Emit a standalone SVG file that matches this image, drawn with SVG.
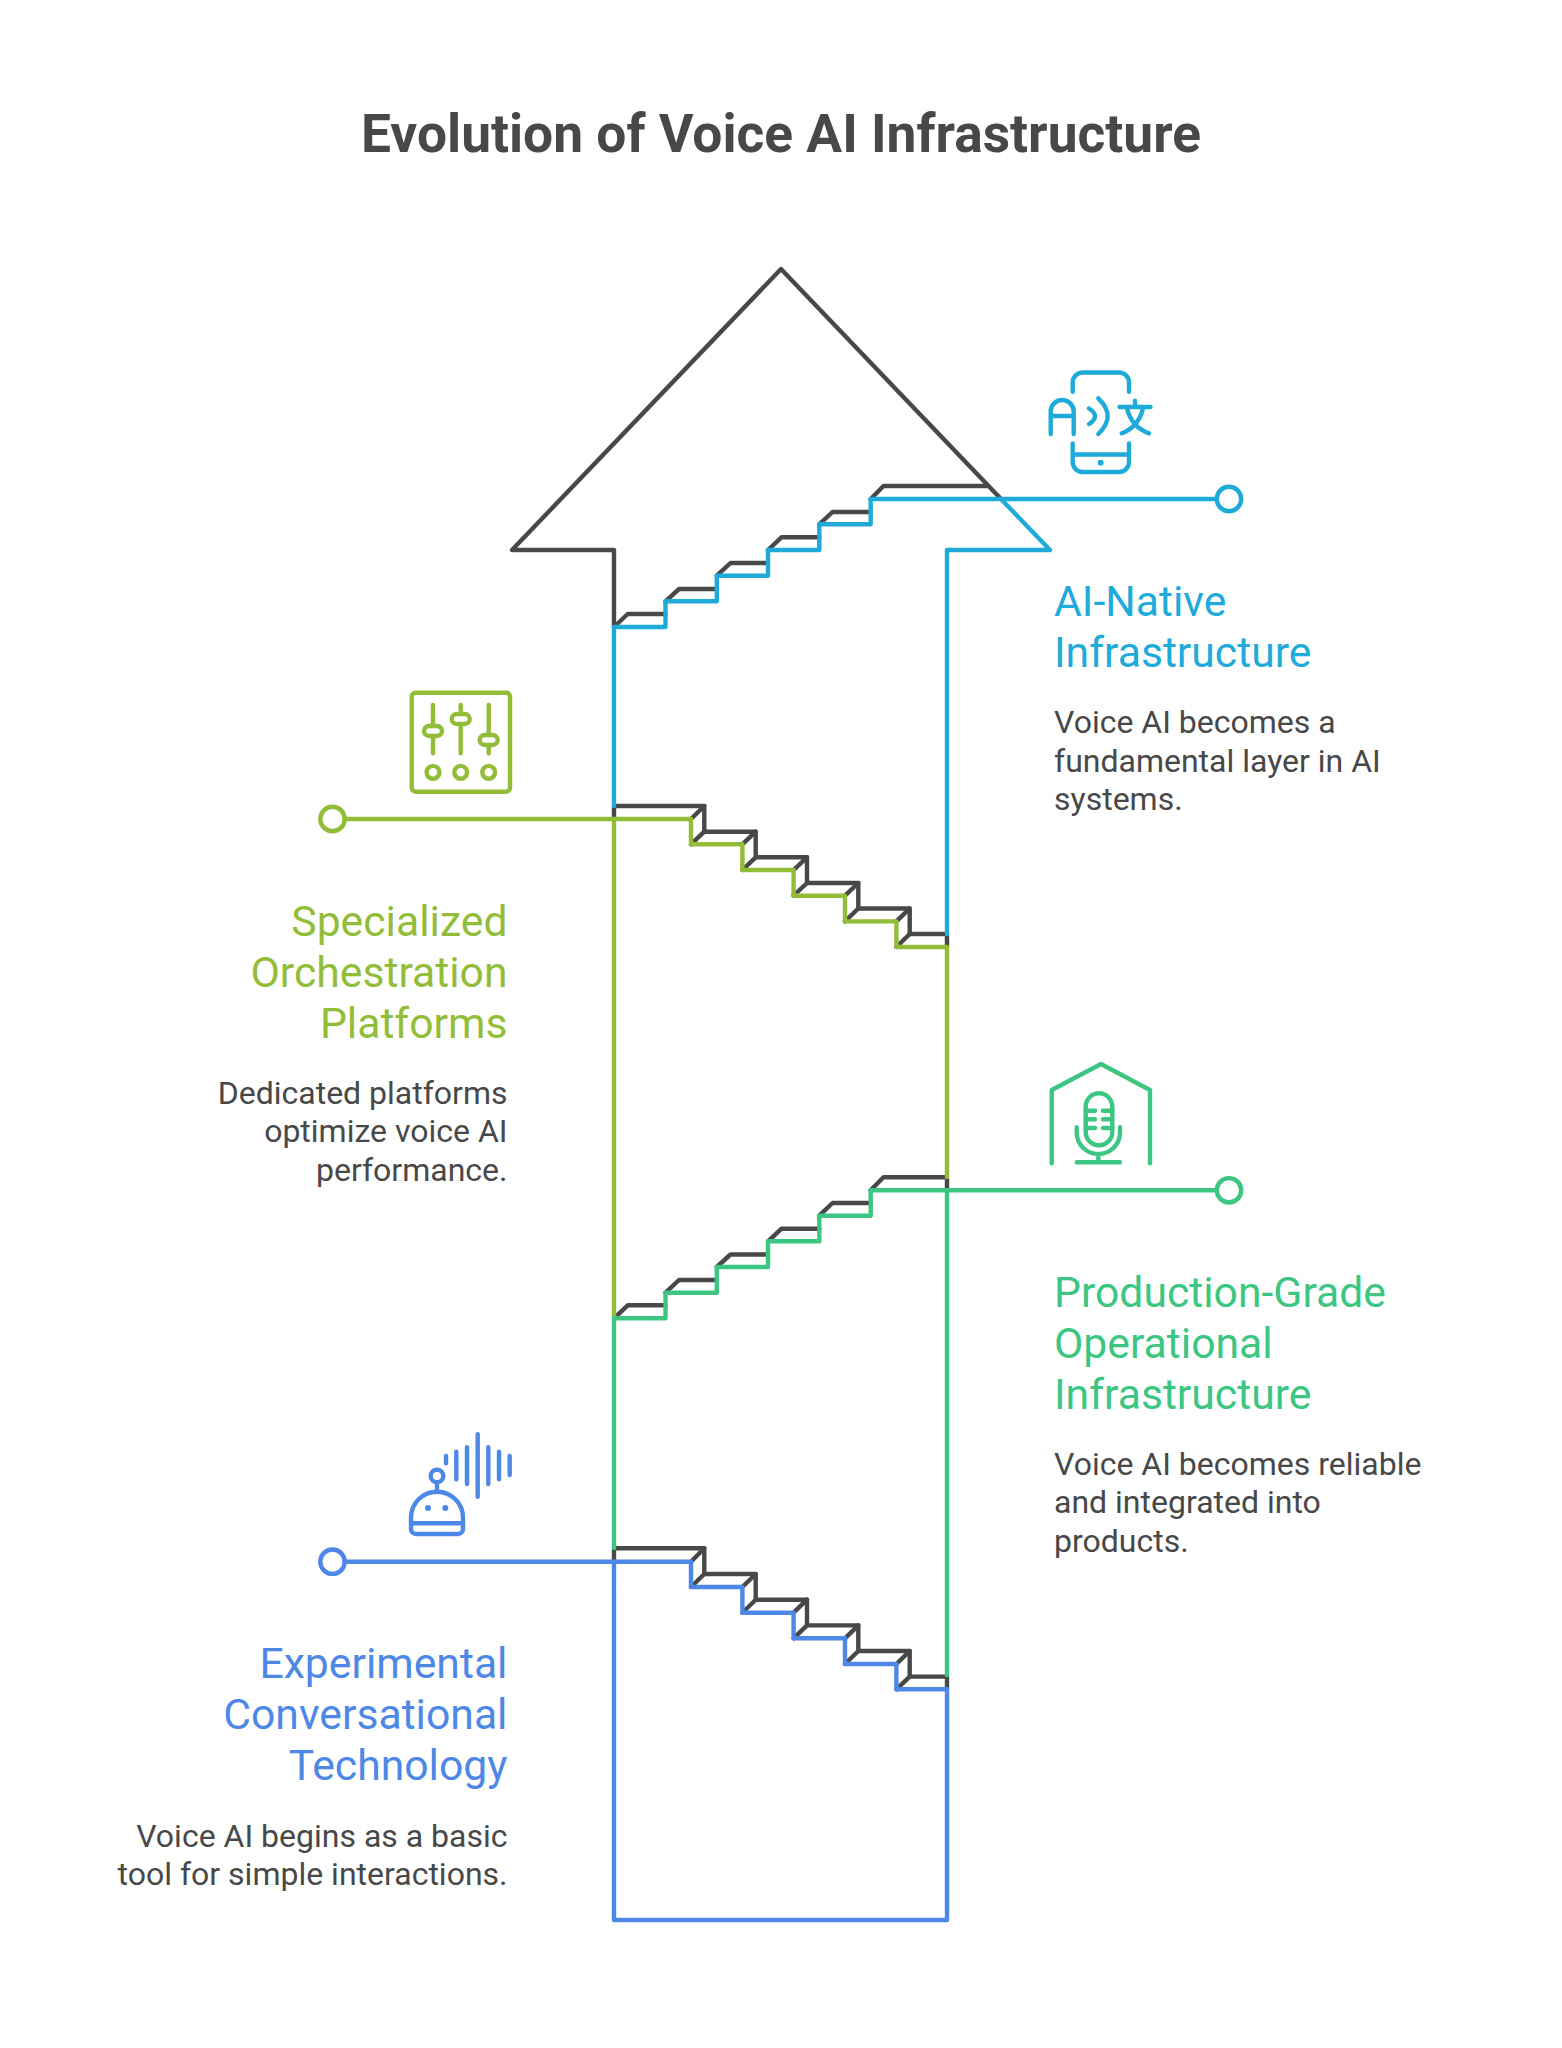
<svg xmlns="http://www.w3.org/2000/svg" width="1562" height="2048" viewBox="0 0 1562 2048">
<style>
text{font-family:Roboto,"Liberation Sans",sans-serif}
.title{font-size:53.3px;font-weight:700;fill:#484848}
.head{font-size:42.7px;font-weight:400}
.desc{font-size:32px;fill:#484848}
.end{text-anchor:end}
.s,.i{fill:none;stroke-width:4.4;stroke-linecap:round;stroke-linejoin:round}
.d{stroke:#484848}
.c{stroke:#1eabda}.o{stroke:#92bd39}.g{stroke:#3dc682}.b{stroke:#4e88e7}
.tc{fill:#1eabda}.to{fill:#92bd39}.tg{fill:#3dc682}.tb{fill:#4e88e7}
.n{fill:#fff;stroke-width:4.4}
</style>
<rect width="1562" height="2048" fill="#fff"/>
<g id="title"><text class="title" x="781" y="151.7" text-anchor="middle">Evolution of Voice AI Infrastructure</text></g>
<g id="arrow-outline">
<path class="s d" d="M1001 499L781 269L512 550H614V627"/>
<path class="s d" d="M614 627L627.7 614H665.5M665.5 601.3L679 589H716.8M716.8 575.7L730.5 563H768M768 550L781.5 537.3H819.3M819.3 524.3L832.5 512H870.7M870.7 499L883.5 486H987"/>
<path class="s d" d="M614 819V806H704.3V831.7H755.7V857.3H807V883H858.3V908.5H909.7V934H947V947"/>
<path class="s d" d="M691 819L704.3 806M691 844.3L704.3 831.7M742.4 844.3L755.7 831.7M742.4 870L755.7 857.3M793.6 870L807 857.3M793.6 895.7L807 883M845 895.7L858.3 883M845 921.4L858.3 908.5M896.4 921.4L909.7 908.5M896.4 947L909.7 934"/>
<path class="s d" d="M614 1318.3L627.7 1305.3H665.5M665.5 1292.7L679 1280H716.8M716.8 1267L730.5 1254.5H768M768 1241.3L781.5 1228.7H819.3M819.3 1215.7L832.5 1203H870.7M870.7 1190.3L883.5 1177.3H947V1190.3"/>
<path class="s d" d="M614 1561.7V1548.3H704.3V1574H755.7V1599.7H807V1625.4H858.3V1651H909.7V1676.6H947V1689.3"/>
<path class="s d" d="M691 1561.7L704.3 1548.3M691 1587L704.3 1574M742.4 1587L755.7 1574M742.4 1612.7L755.7 1599.7M793.6 1612.7L807 1599.7M793.6 1638.3L807 1625.4M845 1638.3L858.3 1625.4M845 1664L858.3 1651M896.4 1664L909.7 1651M896.4 1689.3L909.7 1676.6"/>
</g>
<g id="node-ai-native">
<path class="s c" d="M614 806V627H665.5V601.3H716.8V575.7H768V550H819.3V524.3H870.7V499M1001 499L1050 550H947V934"/>
<circle class="n c" cx="1229" cy="499" r="12.2"/>
<g class="i c"><path d="M1072.7 391.7V382.5A10 10 0 0 1 1082.7 372.5H1119A10 10 0 0 1 1129 382.5V391.7M1072.7 443.5V462A10 10 0 0 0 1082.7 472H1119A10 10 0 0 0 1129 462V443.5M1072.7 454.5H1129M1050.7 434V411.5A11.5 11.5 0 0 1 1073.7 411.5V434M1050.7 416H1073.7M1089 408.5Q1101 416 1089 424M1098.3 398.3Q1117 416 1098.3 434M1119.5 407H1150.5M1135 400.7V407M1143.3 407Q1139 427 1121.7 433.3M1126.7 407Q1131 427 1149 433.3"/></g>
<circle class="tc" cx="1100.7" cy="462.7" r="3"/>
<text class="head tc" x="1054" y="615.7">AI-Native</text>
<text class="head tc" x="1054" y="666.7">Infrastructure</text>
<text class="desc" x="1054" y="733">Voice AI becomes a</text>
<text class="desc" x="1054" y="771.5">fundamental layer in AI</text>
<text class="desc" x="1054" y="809.5">systems.</text>
</g>
<g id="node-orchestration">
<path class="s o" d="M614 1316V819M691 819V844.3H742.4V870H793.6V895.7H845V921.4H896.4V947H947V1177"/>
<circle class="n o" cx="332.5" cy="819" r="12.2"/>
<g class="i o"><rect x="411.7" y="692.7" width="98.3" height="99" rx="4"/><path d="M433 705V725.5M433 737V753.3M460.7 705V713M460.7 725V753.3M488.7 705V734.5M488.7 746V753.3"/><rect x="424" y="726" width="18" height="10" rx="5"/><rect x="451.7" y="714" width="18" height="10" rx="5"/><rect x="479.7" y="735" width="18" height="10" rx="5"/><circle cx="433" cy="772.3" r="6.4"/><circle cx="460.7" cy="772.3" r="6.4"/><circle cx="488.7" cy="772.3" r="6.4"/></g>
<text class="head to end" x="507.5" y="936">Specialized</text>
<text class="head to end" x="507.5" y="987">Orchestration</text>
<text class="head to end" x="507.5" y="1038">Platforms</text>
<text class="desc end" x="507.5" y="1104">Dedicated platforms</text>
<text class="desc end" x="507.5" y="1142">optimize voice AI</text>
<text class="desc end" x="507.5" y="1180.5">performance.</text>
</g>
<g id="node-production">
<path class="s g" d="M614 1548V1318.3H665.5V1292.7H716.8V1267H768V1241.3H819.3V1215.7H870.7V1190.3M947 1190.3V1675"/>
<circle class="n g" cx="1229" cy="1190.3" r="12.2"/>
<g class="i g"><path d="M1051.7 1163.3V1090L1101 1064L1150 1090V1163.3"/><rect x="1085.7" y="1093.3" width="26.6" height="52" rx="13.3"/><path d="M1085.7 1110.7H1095M1085.7 1119.3H1095M1085.7 1128H1095M1103 1110.7H1112.3M1103 1119.3H1112.3M1103 1128H1112.3M1076.7 1127.3V1132.5A21.6 21.6 0 0 0 1120 1132.5V1127.3M1098.3 1154V1162.3M1076.7 1162.3H1120"/></g>
<text class="head tg" x="1054" y="1307">Production-Grade</text>
<text class="head tg" x="1054" y="1358">Operational</text>
<text class="head tg" x="1054" y="1409">Infrastructure</text>
<text class="desc" x="1054" y="1475">Voice AI becomes reliable</text>
<text class="desc" x="1054" y="1513">and integrated into</text>
<text class="desc" x="1054" y="1552">products.</text>
</g>
<g id="node-experimental">
<path class="s b" d="M691 1561.7V1587H742.4V1612.7H793.6V1638.3H845V1664H896.4V1689.3H947V1920H614V1561.7"/>
<circle class="n b" cx="332.5" cy="1561.7" r="12.2"/>
<g class="i b"><path d="M446 1456V1463.3M456.3 1451.7V1479.3M467 1447.3V1484M477.7 1434.3V1496.7M488.3 1447.3V1484M499 1451.7V1479.3M509.7 1456V1475M437 1482.5V1491.7M411 1523.3V1517.7A26 26 0 0 1 463 1517.7V1529A5 5 0 0 1 458 1534H416A5 5 0 0 1 411 1529V1523.3H463"/><circle cx="437" cy="1476" r="6.3"/></g>
<circle class="tb" cx="428" cy="1508" r="3"/><circle class="tb" cx="445.3" cy="1508" r="3"/>
<text class="head tb end" x="507.5" y="1678">Experimental</text>
<text class="head tb end" x="507.5" y="1729">Conversational</text>
<text class="head tb end" x="507.5" y="1780">Technology</text>
<text class="desc end" x="507.5" y="1847">Voice AI begins as a basic</text>
<text class="desc end" x="507.5" y="1885">tool for simple interactions.</text>
</g>
<g id="connectors">
<path class="s c" d="M870.7 499H1216.8"/>
<path class="s o" d="M344.7 819H691"/>
<path class="s g" d="M870.7 1190.3H1216.8"/>
<path class="s b" d="M344.7 1561.7H691"/>
</g>
</svg>
